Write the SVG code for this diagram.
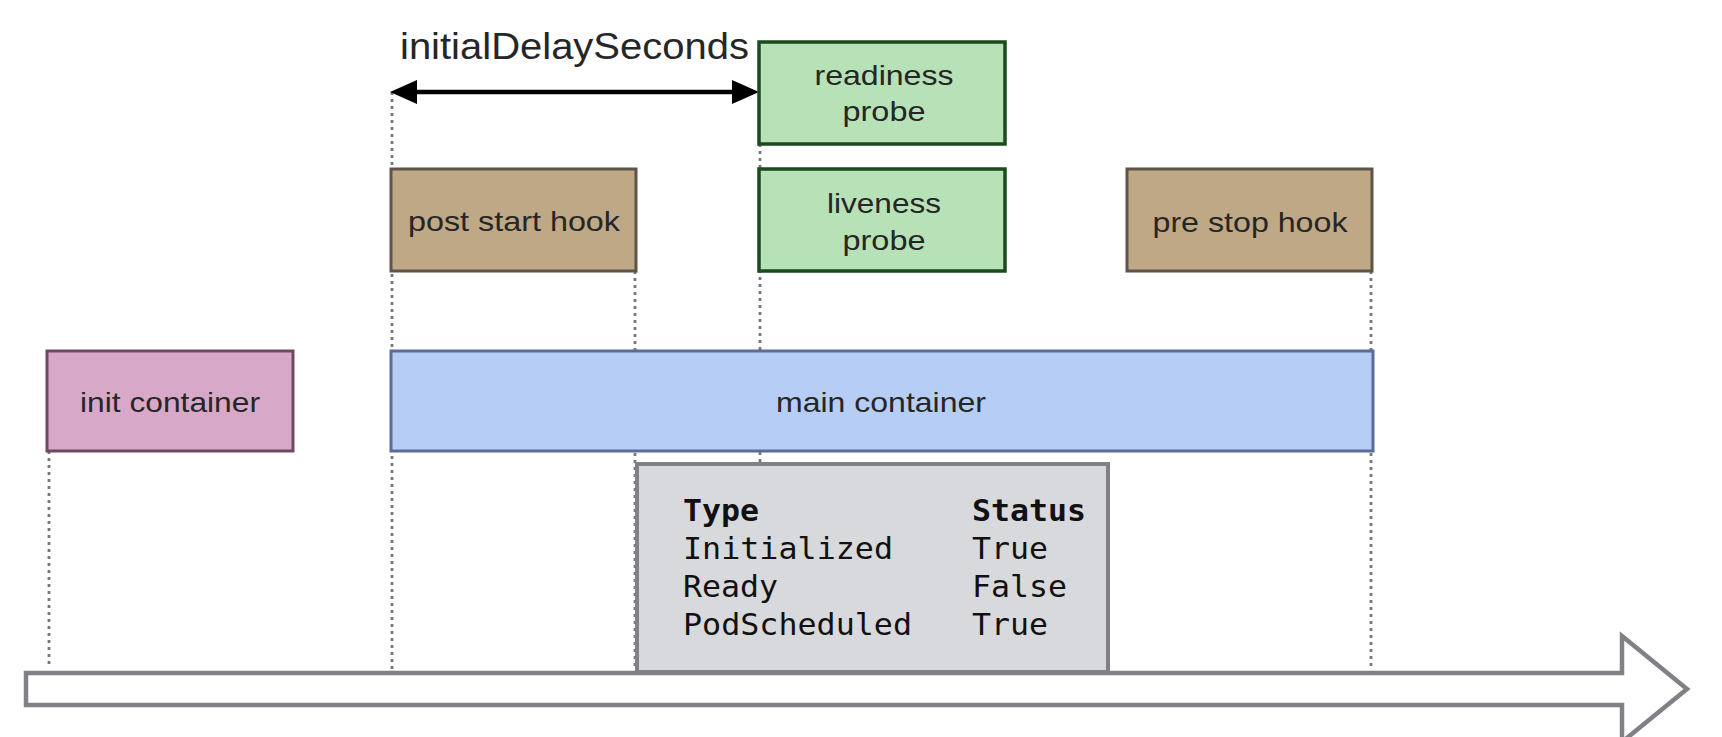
<svg xmlns="http://www.w3.org/2000/svg" width="1722" height="737" viewBox="0 0 1722 737">
<style>
.lbl{font-family:"Liberation Sans",Arial,sans-serif;font-size:28px;fill:#262626;text-anchor:middle}
.mono{font-family:"DejaVu Sans Mono","Liberation Mono",monospace;font-size:30px;fill:#111}
.b{font-weight:bold}
.dot{stroke:#777880;stroke-width:2.8;stroke-dasharray:3 4;fill:none}
.hook{fill:#bea886;stroke:#5f5448;stroke-width:3}
.probe{fill:#b7e1b7;stroke:#1b4a1e;stroke-width:3.5}
</style>
<defs>
<marker id="ah" markerUnits="userSpaceOnUse" markerWidth="30" markerHeight="26" refX="16" refY="13" orient="auto-start-reverse">
<path d="M0,1 L27,13 L0,25 z" fill="#000"/>
</marker>
</defs>
<rect width="1722" height="737" fill="#fff"/>
<g id="connectors">
<line class="dot" x1="392" y1="92" x2="392" y2="670"/>
<line class="dot" x1="635" y1="271" x2="635" y2="670"/>
<line class="dot" x1="760" y1="130" x2="760" y2="470"/>
<line class="dot" x1="1371" y1="271" x2="1371" y2="670"/>
<line class="dot" x1="49" y1="451" x2="49" y2="668"/>
<line x1="401" y1="92" x2="748" y2="92" stroke="#000" stroke-width="4.5" marker-start="url(#ah)" marker-end="url(#ah)"/>
</g>
<g id="axis">
<path d="M26,673 L1622,673 L1622,636 L1687,689 L1622,742 L1622,705 L26,705 Z" fill="#fff" stroke="#808186" stroke-width="4.5" stroke-linejoin="miter"/>
</g>
<g id="label-initialDelaySeconds">
<text x="400" y="59" font-family="Liberation Sans, Arial, sans-serif" font-size="37" fill="#262626" textLength="349" lengthAdjust="spacingAndGlyphs">initialDelaySeconds</text>
</g>
<g id="readiness-probe">
<rect class="probe" x="759" y="42" width="246" height="102"/>
<text class="lbl" x="884" y="85" textLength="139" lengthAdjust="spacingAndGlyphs">readiness</text>
<text class="lbl" x="884" y="121" textLength="83" lengthAdjust="spacingAndGlyphs">probe</text>
</g>
<g id="liveness-probe">
<rect class="probe" x="759" y="169" width="246" height="102"/>
<text class="lbl" x="884" y="213" textLength="114" lengthAdjust="spacingAndGlyphs">liveness</text>
<text class="lbl" x="884" y="250" textLength="83" lengthAdjust="spacingAndGlyphs">probe</text>
</g>
<g id="post-start-hook">
<rect class="hook" x="391" y="169" width="245" height="102"/>
<text class="lbl" x="514" y="231" textLength="212" lengthAdjust="spacingAndGlyphs">post start hook</text>
</g>
<g id="pre-stop-hook">
<rect class="hook" x="1127" y="169" width="245" height="102"/>
<text class="lbl" x="1250" y="232" textLength="195" lengthAdjust="spacingAndGlyphs">pre stop hook</text>
</g>
<g id="init-container">
<rect x="47" y="351" width="246" height="100" fill="#d8a8c8" stroke="#6e4a60" stroke-width="3"/>
<text class="lbl" x="170" y="412" textLength="180" lengthAdjust="spacingAndGlyphs">init container</text>
</g>
<g id="main-container">
<rect x="391" y="351" width="982" height="100" fill="#b6cdf6" stroke="#5b6c99" stroke-width="3"/>
<text class="lbl" x="881" y="412" textLength="210" lengthAdjust="spacingAndGlyphs">main container</text>
</g>
<g id="pod-conditions">
<rect x="637" y="464" width="471" height="208" fill="#d8d9dc" stroke="#808186" stroke-width="4"/>
<text class="mono b" x="683" y="521" textLength="76" lengthAdjust="spacingAndGlyphs">Type</text>
<text class="mono b" x="972" y="521" textLength="114" lengthAdjust="spacingAndGlyphs">Status</text>
<text class="mono" x="683" y="559" textLength="210" lengthAdjust="spacingAndGlyphs">Initialized</text>
<text class="mono" x="972" y="559" textLength="76" lengthAdjust="spacingAndGlyphs">True</text>
<text class="mono" x="683" y="597" textLength="95" lengthAdjust="spacingAndGlyphs">Ready</text>
<text class="mono" x="972" y="597" textLength="95" lengthAdjust="spacingAndGlyphs">False</text>
<text class="mono" x="683" y="635" textLength="229" lengthAdjust="spacingAndGlyphs">PodScheduled</text>
<text class="mono" x="972" y="635" textLength="76" lengthAdjust="spacingAndGlyphs">True</text>
</g>
</svg>
